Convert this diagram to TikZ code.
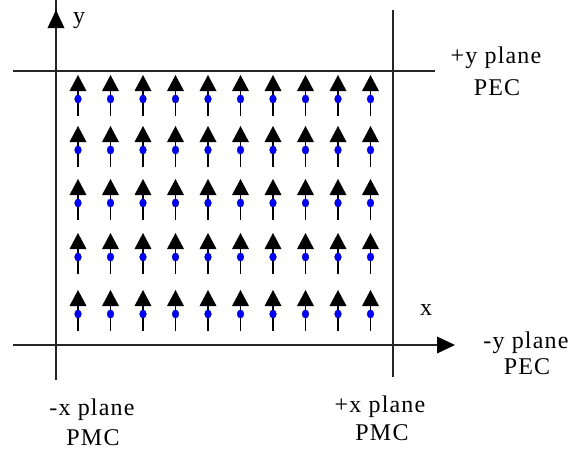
\documentclass[tikz,border=0pt]{standalone}
\usepackage{fontspec}
\setmainfont{Liberation Serif}[LetterSpace=5]
\begin{document}
\begin{tikzpicture}[x=1pt,y=-1pt,
  axis/.style={line width=1.3pt,draw=black!85},
  stem/.style={line width=1.7pt},
  dotmark/.style={fill=blue,draw=blue!50!black,line width=0.3pt},
  lbl/.style={anchor=base,inner sep=0pt,font=\fontsize{24}{28}\selectfont}]
\useasboundingbox (0,0) rectangle (573,453);
% axes and planes
\coordinate (yb) at (56,380); \coordinate (yt) at (56,10);
\coordinate (tl) at (13,71); \coordinate (tr) at (435,71);
\coordinate (bl) at (13,345); \coordinate (br) at (455,345);
\coordinate (rt) at (393,10); \coordinate (rb) at (393,377);
\draw[axis] (yb) -- ([yshift=15]yt);
\fill (yt) -- ++(-8.5,18) -- ++(17,0) -- cycle;
\draw[axis] (tl) -- (tr);
\draw[axis] (bl) -- ([xshift=-15]br);
\fill (br) -- ++(-18,-8.5) -- ++(0,17) -- cycle;
\draw[axis] (rt) -- (rb);
% field arrows
\foreach \t in {75,126,179,233,290}{
  \foreach \i in {0,...,9}{
    \pgfmathsetmacro{\xx}{78+32.5*\i}
    \draw[stem] (\xx,\t+41) -- (\xx,\t+14);
    \fill (\xx,\t) -- (\xx-8.5,\t+16) -- (\xx+8.5,\t+16) -- cycle;
    \path[dotmark] (\xx,\t+24) ellipse (3.4pt and 4.2pt);
  }
}
% labels
\node[lbl] (ylab) at (79,23) {y};
\node[lbl] (xlab) at (426,315) {x};
\node[lbl] (pyl1) at (496,63) {+y plane};
\node[lbl] (pyl2) at (497,95) {PEC};
\node[lbl] (myl1) at (526,348) {-y plane};
\node[lbl] (myl2) at (527,374) {PEC};
\node[lbl] (pxl1) at (380,412) {+x plane};
\node[lbl] (pxl2) at (382,440) {PMC};
\node[lbl] (mxl1) at (92,415) {-x plane};
\node[lbl] (mxl2) at (93,445) {PMC};
\end{tikzpicture}
\end{document}
